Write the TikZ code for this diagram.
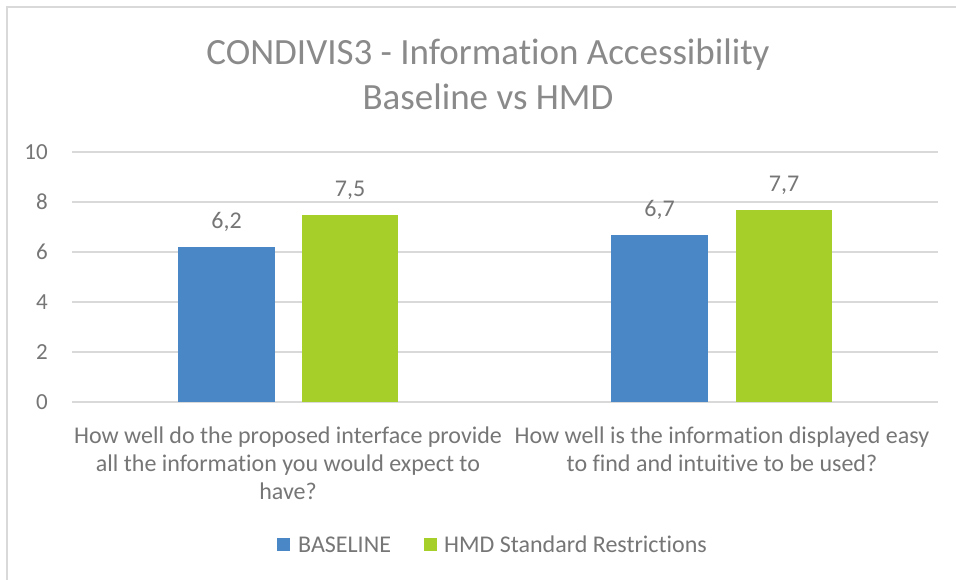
\documentclass[tikz,border=0pt]{standalone}
\usepackage{fontspec}
\setmainfont{Carlito}[Ligatures={NoCommon,NoContextual},Contextuals=NoAlternate]
\definecolor{barblue}{HTML}{4A87C6}
\definecolor{bargreen}{HTML}{A7CF2A}
\definecolor{txtgray}{HTML}{767676}
\definecolor{titlegray}{HTML}{8A8A8A}
\definecolor{gridgray}{HTML}{D9D9D9}
\begin{document}
\begin{tikzpicture}[x=1pt,y=-1pt,
  grid/.style={draw=gridgray,line width=1.4pt},
  tick/.style={text=txtgray,font=\fontsize{23}{26}\selectfont,anchor=east,inner sep=0pt},
  val/.style={text=txtgray,font=\fontsize{24}{28}\selectfont,inner sep=0pt},
  cat/.style={text=txtgray,font=\fontsize{24}{28}\selectfont,align=center,inner sep=0pt,anchor=base},
  leg/.style={text=txtgray,font=\fontsize{24}{28}\selectfont,anchor=west,inner sep=0pt},
  bluebar/.style={fill=barblue,draw=none},
  greenbar/.style={fill=bargreen,draw=none}]
\useasboundingbox (0,0) rectangle (956,579);
\fill[white] (0,0) rectangle (956,579);
% frame
\draw[draw=gridgray,line width=1.6pt] (7,585) -- (7,7) -- (962,7);
% title
\node[text=titlegray,font=\fontsize{37}{45}\selectfont,align=center,inner sep=0pt] (title) at (488,74) {CONDIVIS3 - Information Accessibility\\Baseline vs HMD};
% grid and ticks
\foreach \v in {0,2,4,6,8,10}{
  \draw[grid] (72,{402-25*\v}) -- (938,{402-25*\v});
  \node[tick] (t\v) at (48,{402-25*\v}) {\v};
}
% bars
\fill[bluebar] (178,402) rectangle (275,247) node[midway] (b1) {};
\fill[greenbar] (302,402) rectangle (398,214.5) node[midway] (g1) {};
\fill[bluebar] (611,402) rectangle (708,234.5) node[midway] (b2) {};
\fill[greenbar] (736,402) rectangle (832,209.5) node[midway] (g2) {};
% value labels
\node[val] (vb1) at (226.5,222) {6,2};
\node[val] (vg1) at (350,190) {7,5};
\node[val] (vb2) at (659.5,210) {6,7};
\node[val] (vg2) at (784,185) {7,7};
% category labels
\node[cat] (c1a) at (288,443) {How well do the proposed interface provide};
\node[cat] (c1b) at (288,471) {all the information you would expect to};
\node[cat] (c1c) at (288,499) {have?};
\node[cat] (c2a) at (722,443) {How well is the information displayed easy};
\node[cat] (c2b) at (722,471) {to find and intuitive to be used?};
% legend
\fill[barblue] (277,538) rectangle (290,551);
\node[leg] (l1) at (298,544.5) {BASELINE};
\fill[bargreen] (424,538) rectangle (437,551);
\node[leg] (l2) at (444,544.5) {HMD Standard Restrictions};
\end{tikzpicture}
\end{document}
